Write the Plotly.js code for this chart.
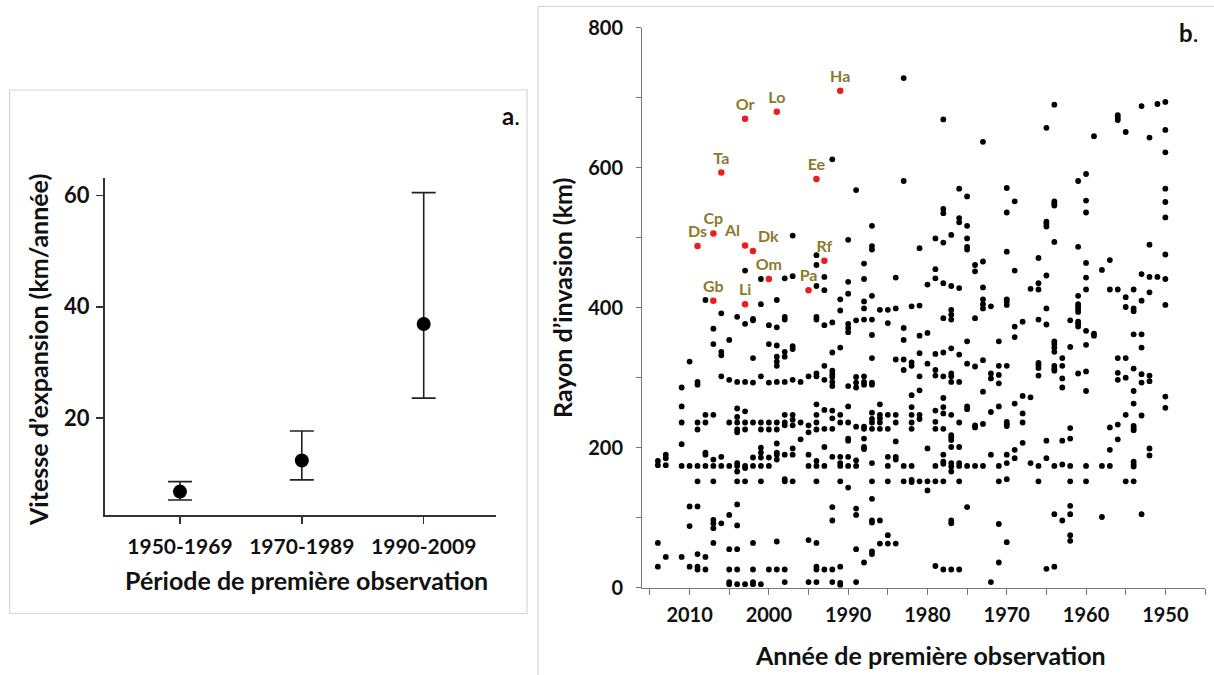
<!DOCTYPE html>
<html>
<head>
<meta charset="utf-8">
<script src="https://cdn.plot.ly/plotly-3.0.1.min.js"></script>
<style>html,body{margin:0;padding:0;background:#fff;}#chart{width:1214px;height:675px;}</style>
</head>
<body>
<div id="chart"></div>
<script>
// ---------- Panel a data ----------
const periods = ['1950-1969', '1970-1989', '1990-2009'];
const speedMean = [6.8, 12.4, 36.9];
const speedUpper = [8.6, 17.7, 60.5];
const speedLower = [5.3, 8.9, 23.6];

// ---------- Panel b data: [year of first observation, invasion radii (km)] ----------
const decade2010s = [
  [2014, [181, 175, 64, 30]],
  [2013, [190, 185, 175, 44]],
  [2011, [286, 259, 236, 205, 174, 44]],
  [2010, [323, 174, 116, 88, 30]]
];
const decade2000s = [
  [2009, [294, 290, 236, 226, 174, 152, 116, 48, 30, 26]],
  [2008, [411, 247, 236, 193, 190, 174, 44, 26]],
  [2007, [370, 348, 247, 183, 174, 152, 97, 92, 85, 64]],
  [2006, [392, 337, 332, 302, 187, 174, 92]],
  [2005, [354, 297, 236, 174, 104, 55, 26, 8, 5]],
  [2004, [387, 294, 256, 244, 236, 226, 222, 178, 174, 166, 152, 119, 89, 55, 26, 5]],
  [2003, [453, 377, 294, 252, 236, 226, 174, 171, 152, 5]],
  [2002, [384, 382, 328, 293, 236, 186, 174, 64, 26, 8, 5]],
  [2001, [441, 405, 302, 236, 226, 200, 193, 186, 174, 152, 5]],
  [2000, [375, 348, 293, 236, 226, 186, 174, 26]]
];
const decade1990s = [
  [1999, [411, 372, 346, 330, 323, 317, 294, 236, 226, 206, 193, 190, 183, 66, 26]],
  [1998, [442, 387, 383, 337, 330, 294, 247, 236, 232, 190, 155, 152, 26, 8]],
  [1997, [503, 445, 345, 341, 297, 247, 240, 232, 199, 190, 152]],
  [1996, [294, 236, 212]],
  [1995, [302, 232, 222, 190, 174, 68, 8]],
  [1994, [475, 461, 431, 387, 383, 306, 302, 262, 247, 236, 226, 181, 174, 152, 64, 30, 26, 8]],
  [1993, [444, 425, 375, 317, 297, 254, 227, 201, 174, 26]],
  [1992, [612, 379, 336, 310, 305, 301, 294, 288, 253, 242, 227, 187, 115, 96, 26, 8]],
  [1991, [412, 396, 343, 247, 236, 187, 178, 174, 152, 30, 7, 4]],
  [1990, [497, 437, 420, 377, 371, 365, 288, 259, 236, 213, 210, 187, 174, 143]]
];
const decade1980s = [
  [1989, [568, 382, 301, 293, 286, 230, 182, 174, 113, 104, 55, 8]],
  [1988, [463, 441, 409, 399, 383, 302, 294, 290, 230, 227, 213, 201, 198, 36]],
  [1987, [517, 488, 483, 417, 383, 361, 328, 293, 290, 250, 241, 236, 227, 178, 152, 127, 96, 93, 52, 48]],
  [1986, [397, 262, 247, 242, 236, 227, 96, 63]],
  [1985, [397, 378, 247, 227, 187, 174, 152, 75, 63]],
  [1984, [443, 399, 326, 247, 236, 209, 187, 183, 63]],
  [1983, [728, 581, 371, 354, 326, 311, 174, 152]],
  [1982, [402, 322, 317, 275, 258, 247, 236, 227, 174, 154, 151]],
  [1981, [485, 403, 360, 335, 302, 282, 247, 241, 152]],
  [1980, [433, 364, 320, 199, 152, 139]]
];
const decade1970s = [
  [1979, [499, 455, 442, 334, 311, 303, 253, 237, 227, 174, 152, 31]],
  [1978, [669, 541, 535, 493, 435, 385, 336, 302, 271, 258, 249, 227, 190, 180, 177, 152, 26]],
  [1977, [504, 431, 397, 390, 383, 342, 306, 302, 294, 247, 218, 215, 211, 201, 178, 173, 166, 96, 92, 26]],
  [1976, [570, 528, 522, 428, 333, 294, 236, 201, 178, 174, 152, 26]],
  [1975, [559, 517, 499, 487, 483, 352, 320, 259, 255, 174, 115]],
  [1974, [461, 452, 385, 316, 232, 229, 174]],
  [1973, [637, 466, 429, 412, 405, 399, 325, 280, 234, 174]],
  [1972, [402, 306, 299, 251, 190, 8]],
  [1971, [352, 317, 304, 292, 259, 174, 152, 91, 36]],
  [1970, [571, 536, 480, 412, 409, 404, 317, 237, 234, 231, 190, 178, 155, 65]]
];
const decade1960s = [
  [1969, [552, 453, 373, 358, 263, 197, 185]],
  [1968, [380, 274, 249, 236, 207]],
  [1967, [427, 272, 178]],
  [1966, [471, 435, 426, 383, 321, 318, 314, 303, 174, 152]],
  [1965, [657, 523, 520, 516, 446, 399, 376, 210, 185, 27]],
  [1964, [690, 552, 549, 546, 494, 352, 348, 343, 337, 317, 313, 310, 174, 105, 30]],
  [1963, [328, 317, 299, 286, 210, 176, 96]],
  [1962, [382, 344, 228, 213, 174, 152, 117, 105, 75, 67]],
  [1961, [581, 487, 417, 405, 401, 398, 394, 380, 377, 373, 306]],
  [1960, [591, 553, 536, 464, 443, 426, 367, 347, 309, 281, 174, 152]]
];
const decade1950s = [
  [1959, [645, 363, 360]],
  [1958, [454, 174, 101]],
  [1957, [468, 426, 229, 197, 174]],
  [1956, [675, 671, 668, 426, 328, 307, 297, 233, 212]],
  [1955, [651, 415, 401, 328, 300, 247, 152]],
  [1954, [426, 399, 395, 362, 313, 281, 263, 231, 228, 225, 180, 176, 173, 152]],
  [1953, [688, 448, 410, 362, 343, 305, 293, 246, 105]],
  [1952, [643, 490, 444, 422, 303, 295, 199, 189]],
  [1951, [691, 444]],
  [1950, [694, 654, 622, 570, 551, 529, 476, 441, 404, 273, 257]]
];

// Highlighted (labelled) species
const labelCodes  = ['Ha', 'Or', 'Lo', 'Ta', 'Ee', 'Cp', 'Ds', 'Al', 'Dk', 'Rf', 'Om', 'Pa', 'Gb', 'Li'];
const labelYears  = [1991, 2003, 1999, 2006, 1994, 2007, 2009, 2003, 2002, 1993, 2000, 1995, 2007, 2003];
const labelRadius = [710, 670, 680, 593, 584, 506, 488, 489, 481, 467, 441, 425, 410, 405];

// Axis tick settings
const yTicksA = [20, 40, 60];

// ---------- build ----------
const W = 1214, H = 675;
const px = v => v / W;
const py = v => 1 - v / H;

const allDecades = [decade2010s, decade2000s, decade1990s, decade1980s, decade1970s, decade1960s, decade1950s];
const bx = [], by = [];
allDecades.forEach(d => d.forEach(([yr, vals]) => vals.forEach(v => { bx.push(yr); by.push(v); })));

const labelPos = labelCodes.map(c => c === 'Al' ? 'top left' : (c === 'Dk' ? 'top right' : 'top center'));

const FONT = 'Lato, "Open Sans", sans-serif';
const boldFont = (size, color) => ({ family: FONT, size: size, color: color || '#111', weight: 700 });

const traces = [
  {
    type: 'scatter', mode: 'markers', xaxis: 'x', yaxis: 'y',
    x: periods, y: speedMean,
    marker: { color: '#000', size: 14 },
    error_y: {
      type: 'data', symmetric: false,
      array: speedUpper.map((u, i) => u - speedMean[i]),
      arrayminus: speedLower.map((l, i) => speedMean[i] - l),
      color: '#222', thickness: 1.6, width: 12
    },
    hoverinfo: 'x+y', showlegend: false
  },
  {
    type: 'scatter', mode: 'markers', xaxis: 'x2', yaxis: 'y2',
    x: bx, y: by,
    marker: { color: '#000', size: 5.8 },
    showlegend: false, hoverinfo: 'x+y'
  },
  {
    type: 'scatter', mode: 'markers+text', xaxis: 'x2', yaxis: 'y2',
    x: labelYears, y: labelRadius, text: labelCodes,
    textposition: labelPos,
    textfont: boldFont(16, '#8c7a2c'),
    marker: { color: '#ee1c1c', size: 6.5 },
    showlegend: false, hoverinfo: 'text+x+y', cliponaxis: false
  }
];

const layout = {
  width: W, height: H,
  margin: { l: 0, r: 0, t: 0, b: 0 },
  paper_bgcolor: '#fff', plot_bgcolor: 'rgba(0,0,0,0)',
  showlegend: false,
  xaxis: {
    domain: [px(105), px(495.6)], anchor: 'y',
    type: 'category', range: [-0.615, 2.59],
    showline: true, linecolor: '#333', linewidth: 2,
    ticks: 'outside', ticklen: 7, tickwidth: 1.5, tickcolor: '#333',
    tickfont: boldFont(21), ticklabelstandoff: 5,
    showgrid: false, zeroline: false, fixedrange: true
  },
  yaxis: {
    domain: [py(515), py(177.6)], anchor: 'x',
    range: [2.6, 63.2], tickvals: yTicksA,
    showline: true, linecolor: '#333', linewidth: 2,
    ticks: 'outside', ticklen: 7, tickwidth: 1.5, tickcolor: '#333',
    tickfont: boldFont(22), ticklabelstandoff: 2,
    showgrid: false, zeroline: false, fixedrange: true
  },
  xaxis2: {
    domain: [px(642), px(1205)], anchor: 'y2',
    range: [2016, 1945], tick0: 2010, dtick: 10,
    showline: true, linecolor: '#777', linewidth: 1,
    ticks: 'outside', ticklen: 6, tickwidth: 1, tickcolor: '#777',
    minor: { dtick: 5, tick0: 2010, ticks: 'outside', ticklen: 6, tickwidth: 1, tickcolor: '#777', showgrid: false },
    tickfont: boldFont(20), ticklabelstandoff: 3,
    showgrid: false, zeroline: false, fixedrange: true
  },
  yaxis2: {
    domain: [py(587.7), py(27.7)], anchor: 'x2',
    range: [0, 800], tick0: 0, dtick: 200,
    showline: true, linecolor: '#777', linewidth: 1,
    ticks: 'outside', ticklen: 5, tickwidth: 1, tickcolor: '#777',
    minor: { dtick: 100, ticks: 'outside', ticklen: 5, tickwidth: 1, tickcolor: '#777', showgrid: false },
    tickfont: boldFont(20), ticklabelstandoff: 9,
    showgrid: false, zeroline: false, fixedrange: true
  },
  shapes: [
    { type: 'rect', xref: 'paper', yref: 'paper', x0: px(9.6), x1: px(527), y0: py(613.5), y1: py(90),
      line: { color: '#d6d6d6', width: 1.2 }, fillcolor: 'rgba(0,0,0,0)' },
    { type: 'line', xref: 'paper', yref: 'paper', x0: px(538), x1: 1, y0: py(6.5), y1: py(6.5),
      line: { color: '#d6d6d6', width: 1.2 } },
    { type: 'line', xref: 'paper', yref: 'paper', x0: px(538), x1: px(538), y0: 0, y1: py(6.5),
      line: { color: '#d6d6d6', width: 1.2 } }
  ],
  annotations: [
    { xref: 'paper', yref: 'paper', x: px(38), y: py(350), text: 'Vitesse d’expansion (km/année)',
      textangle: -90, showarrow: false, xanchor: 'center', yanchor: 'middle', font: boldFont(25) },
    { xref: 'paper', yref: 'paper', x: px(306), y: py(580), text: 'Période de première observation',
      showarrow: false, xanchor: 'center', yanchor: 'middle', font: boldFont(25) },
    { xref: 'paper', yref: 'paper', x: px(562), y: py(298), text: 'Rayon d’invasion (km)',
      textangle: -90, showarrow: false, xanchor: 'center', yanchor: 'middle', font: boldFont(25) },
    { xref: 'paper', yref: 'paper', x: px(930), y: py(655), text: 'Année de première observation',
      showarrow: false, xanchor: 'center', yanchor: 'middle', font: boldFont(25) },
    { xref: 'paper', yref: 'paper', x: px(500), y: py(115), text: '<b>a</b>.',
      showarrow: false, xanchor: 'left', yanchor: 'middle', font: { family: FONT, size: 24, color: '#111' } },
    { xref: 'paper', yref: 'paper', x: px(1177), y: py(33), text: '<b>b</b>.',
      showarrow: false, xanchor: 'left', yanchor: 'middle', font: { family: FONT, size: 24, color: '#111' } }
  ]
};

Plotly.newPlot('chart', traces, layout, { staticPlot: true, displayModeBar: false });
</script>
</body>
</html>
